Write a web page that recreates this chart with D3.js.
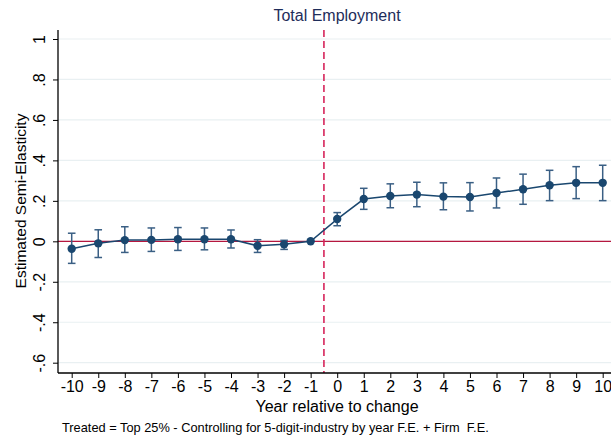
<!DOCTYPE html>
<html>
<head>
<meta charset="utf-8">
<script src="https://d3js.org/d3.v7.min.js"></script>
<style>
  body { margin: 0; background: #fff; }
  text { font-family: "Liberation Sans", Arial, sans-serif; }
</style>
</head>
<body>
<svg width="611" height="439"></svg>
<script>
const svg = d3.select('svg');

const years = [-10, -9, -8, -7, -6, -5, -4, -3, -2, -1, 0, 1, 2, 3, 4, 5, 6, 7, 8, 9, 10];
const estimates = [-0.037, -0.01, 0.006, 0.007, 0.01, 0.01, 0.01, -0.022, -0.015, 0, 0.11, 0.209, 0.224, 0.231, 0.221, 0.219, 0.239, 0.257, 0.277, 0.289, 0.289];
const upper = [0.04, 0.057, 0.072, 0.066, 0.068, 0.066, 0.056, 0.008, 0.005, null, 0.142, 0.262, 0.284, 0.292, 0.289, 0.29, 0.313, 0.332, 0.351, 0.369, 0.376];
const lower = [-0.109, -0.08, -0.055, -0.05, -0.045, -0.042, -0.033, -0.055, -0.04, null, 0.077, 0.158, 0.166, 0.171, 0.156, 0.15, 0.165, 0.183, 0.201, 0.211, 0.201];
const yTicks = [-0.6, -0.4, -0.2, 0, 0.2, 0.4, 0.6, 0.8, 1];

const data = years.map((y, i) => ({ year: y, b: estimates[i], hi: upper[i], lo: lower[i] }));

const title = 'Total Employment';
const xAxisLabel = 'Year relative to change';
const yAxisLabel = 'Estimated Semi-Elasticity';
const note = 'Treated = Top 25% - Controlling for 5-digit-industry by year F.E. + Firm  F.E.';

const navy = '#1a476f';
const margin = { top: 30, left: 58 };
const innerHeight = 343;
const innerWidth = 560;

const xScale = d3.scaleLinear()
    .domain([-10, 10])
    .range([71.7 - margin.left, 602.7 - margin.left]);

const yScale = d3.scaleLinear()
    .domain([-0.6, 1])
    .range([362.7 - margin.top, 39 - margin.top]);

const g = svg.append('g')
    .attr('transform', `translate(${margin.left}, ${margin.top})`);

// grid
g.selectAll('.grid').data(yTicks)
    .enter().append('line')
    .attr('x1', 0).attr('x2', innerWidth)
    .attr('y1', d => yScale(d)).attr('y2', d => yScale(d))
    .attr('stroke', '#e9f0f2')
    .attr('stroke-width', 1.2);

// zero line
g.append('line')
    .attr('x1', 0).attr('x2', innerWidth)
    .attr('y1', yScale(0)).attr('y2', yScale(0))
    .attr('stroke', '#b5173f')
    .attr('stroke-width', 1.3);

// treatment line
g.append('line')
    .attr('x1', xScale(-0.5)).attr('x2', xScale(-0.5))
    .attr('y1', 0).attr('y2', innerHeight)
    .attr('stroke', '#d6245a')
    .attr('stroke-width', 1.6)
    .attr('stroke-dasharray', '7,4');

// axes
const xAxis = d3.axisBottom(xScale)
    .tickValues(years)
    .tickFormat(d3.format('d'))
    .tickSize(5)
    .tickPadding(3);

const xAxisG = g.append('g')
    .attr('transform', `translate(0, ${innerHeight})`)
    .call(xAxis);
xAxisG.select('.domain').attr('d', `M0,0H${innerWidth}`).attr('stroke', '#000').attr('stroke-width', 1.3);
xAxisG.selectAll('.tick line').attr('stroke', '#000');
xAxisG.selectAll('.tick text')
    .attr('font-size', 16)
    .attr('fill', '#000')
    .attr('font-family', '"Liberation Sans", Arial, sans-serif')
    .text(d => d < 0 ? '-' + Math.abs(d) : d);

const yFormat = d => {
    if (d === 0) return '0';
    if (d === 1) return '1';
    const s = Math.abs(d).toFixed(1).replace(/^0/, '');
    return d < 0 ? '-' + s : s;
};

const yAxis = d3.axisLeft(yScale)
    .tickValues(yTicks)
    .tickFormat(yFormat)
    .tickSize(5)
    .tickPadding(0);

const yAxisG = g.append('g').call(yAxis);
yAxisG.select('.domain').attr('d', `M0,0V${innerHeight}`).attr('stroke', '#000').attr('stroke-width', 1.3);
yAxisG.selectAll('.tick line').attr('stroke', '#000');
yAxisG.selectAll('.tick text')
    .attr('font-size', 16)
    .attr('fill', '#000')
    .attr('font-family', '"Liberation Sans", Arial, sans-serif')
    .attr('x', 0).attr('dy', 0)
    .attr('text-anchor', 'middle')
    .attr('transform', 'translate(-13,0) rotate(-90)');

// error bars
const ci = data.filter(d => d.hi !== null);
const cap = 3.8;
const bars = g.selectAll('.ci').data(ci).enter().append('g').attr('stroke', '#3a5f84').attr('stroke-width', 1.5);
bars.append('line')
    .attr('x1', d => xScale(d.year)).attr('x2', d => xScale(d.year))
    .attr('y1', d => yScale(d.hi)).attr('y2', d => yScale(d.lo));
bars.append('line')
    .attr('x1', d => xScale(d.year) - cap).attr('x2', d => xScale(d.year) + cap)
    .attr('y1', d => yScale(d.hi)).attr('y2', d => yScale(d.hi));
bars.append('line')
    .attr('x1', d => xScale(d.year) - cap).attr('x2', d => xScale(d.year) + cap)
    .attr('y1', d => yScale(d.lo)).attr('y2', d => yScale(d.lo));

// connecting line
const line = d3.line().x(d => xScale(d.year)).y(d => yScale(d.b));
g.append('path')
    .datum(data)
    .attr('d', line)
    .attr('fill', 'none')
    .attr('stroke', navy)
    .attr('stroke-width', 1.5);

g.selectAll('circle').data(data)
    .enter().append('circle')
    .attr('cx', d => xScale(d.year))
    .attr('cy', d => yScale(d.b))
    .attr('r', 4.2)
    .attr('fill', navy);

// texts
svg.append('text')
    .attr('x', 337).attr('y', 21)
    .attr('text-anchor', 'middle')
    .attr('font-size', 16)
    .attr('fill', '#1e2d5a')
    .text(title);

svg.append('text')
    .attr('x', 337).attr('y', 412)
    .attr('text-anchor', 'middle')
    .attr('font-size', 16)
    .attr('fill', '#000')
    .text(xAxisLabel);

svg.append('text')
    .attr('transform', 'translate(26, 201) rotate(-90)')
    .attr('text-anchor', 'middle')
    .attr('font-size', 15.5)
    .attr('fill', '#000')
    .text(yAxisLabel);

svg.append('text')
    .attr('x', 62).attr('y', 432)
    .attr('font-size', 12.8)
    .attr('fill', '#000')
    .style('white-space', 'pre')
    .text(note);
</script>
</body>
</html>
